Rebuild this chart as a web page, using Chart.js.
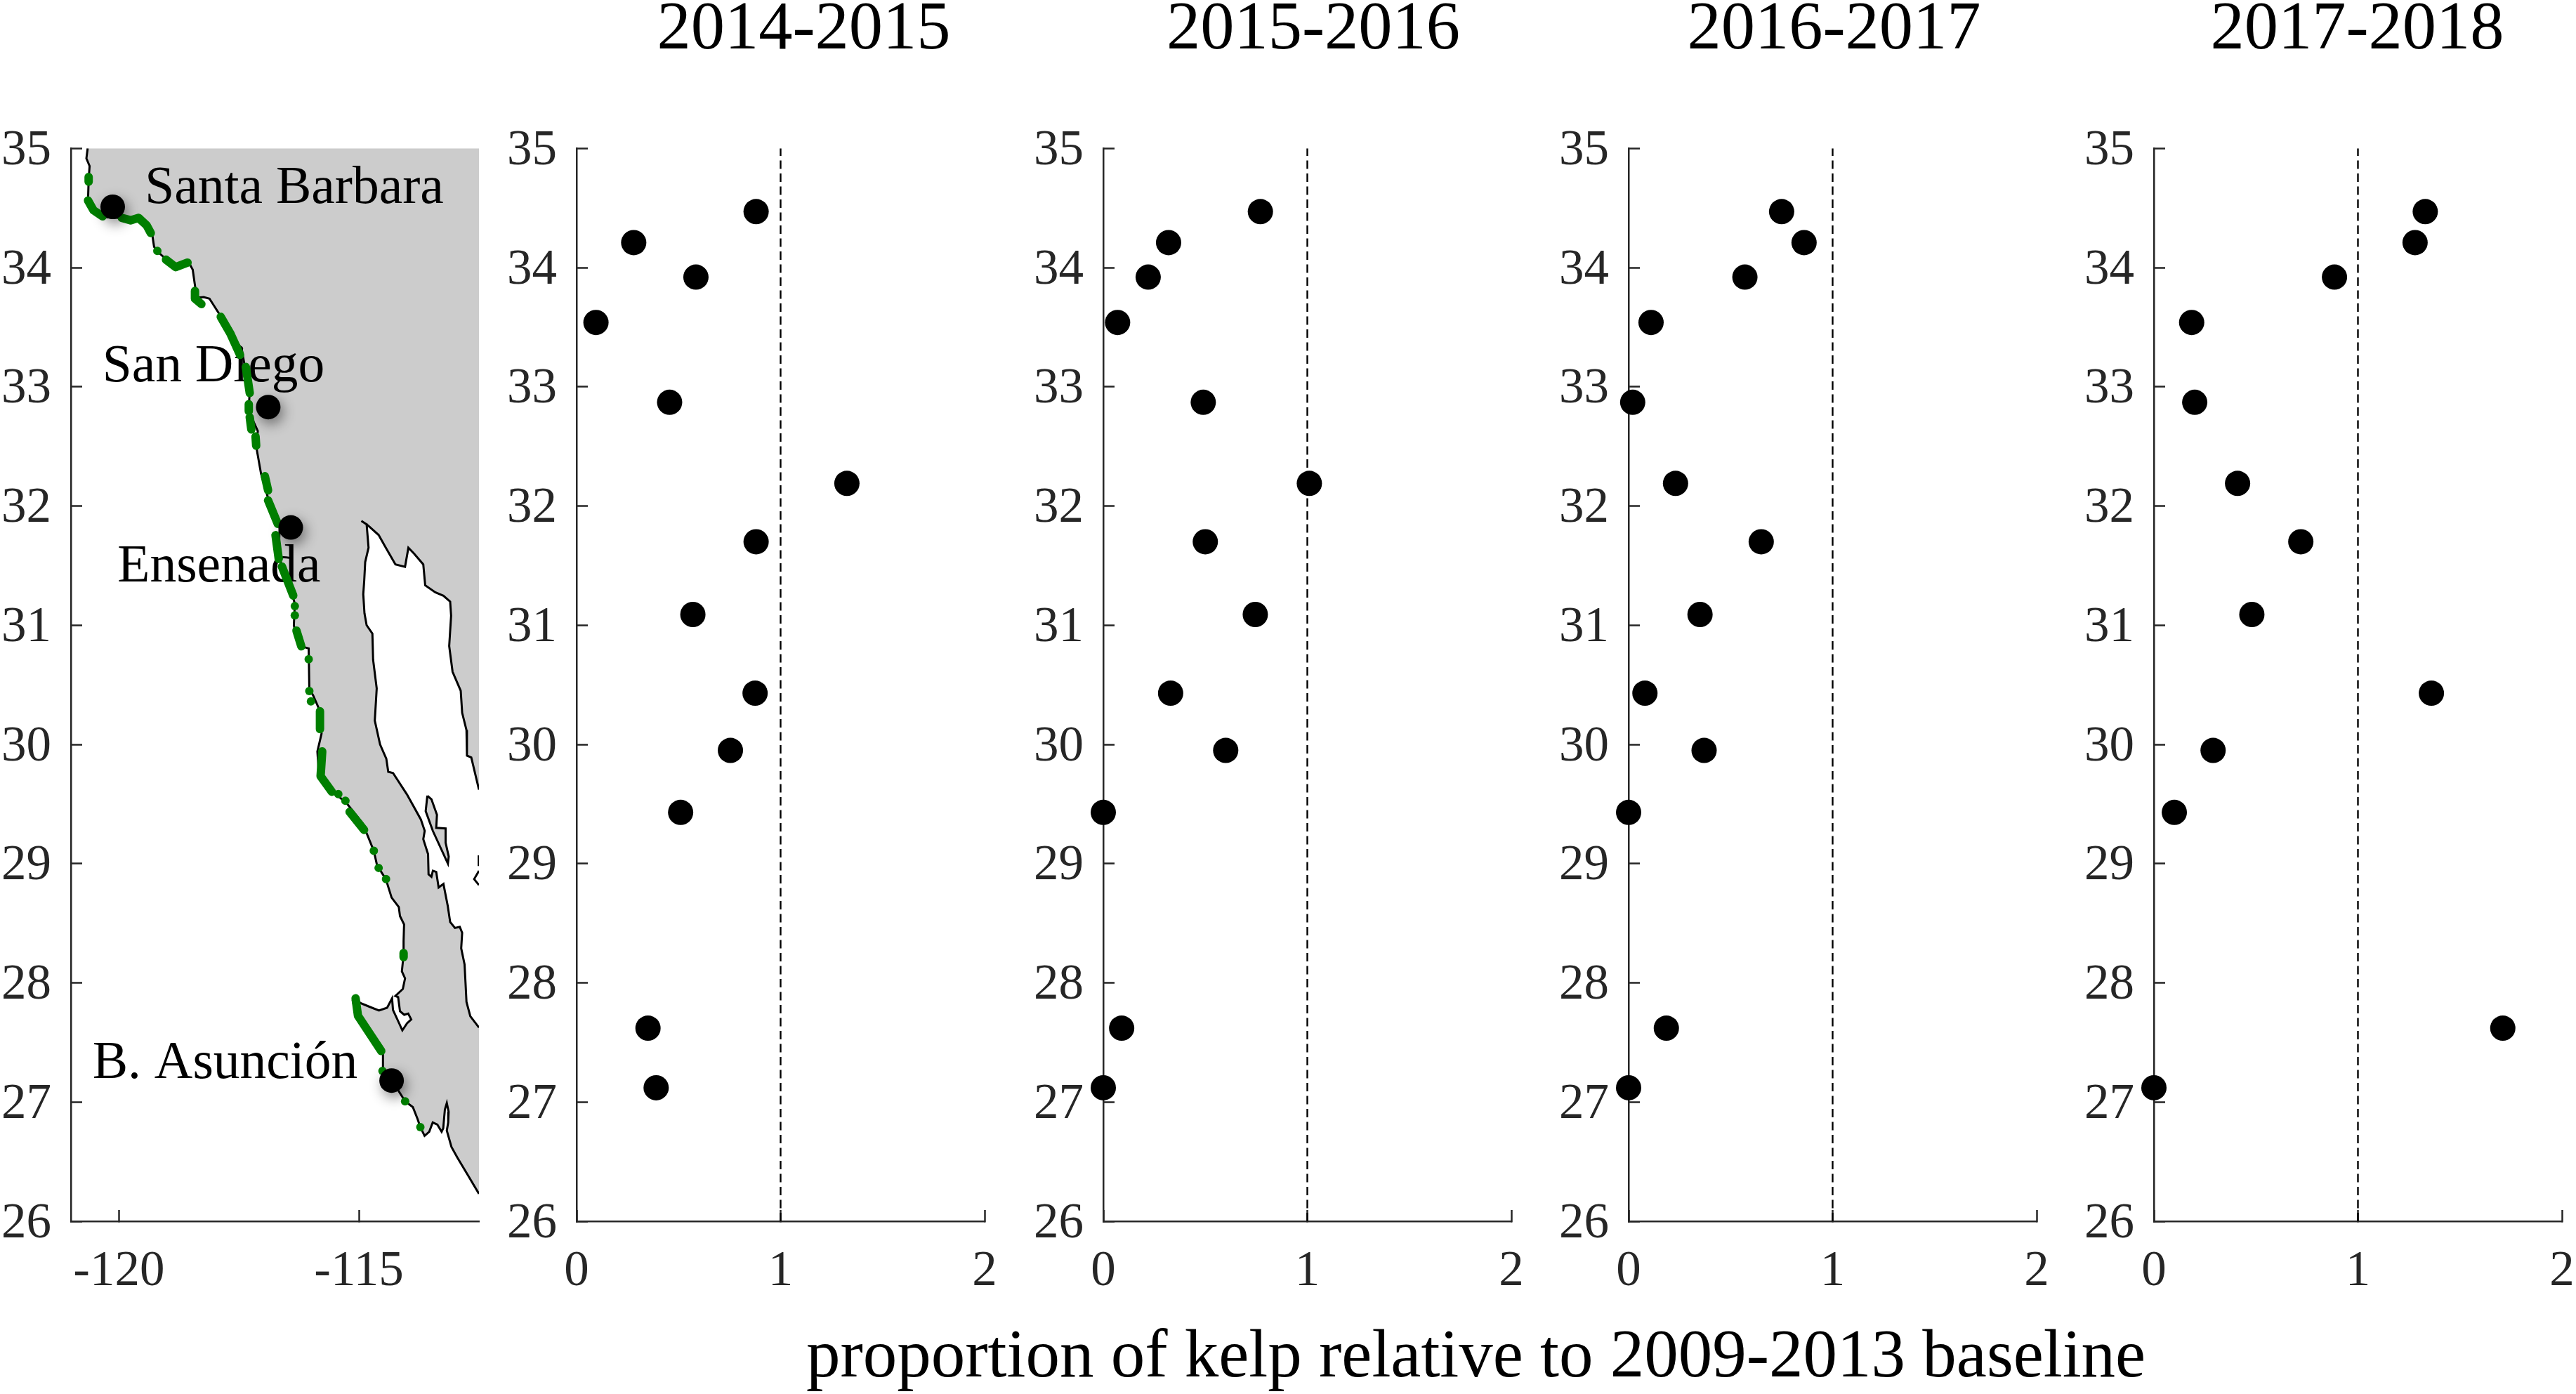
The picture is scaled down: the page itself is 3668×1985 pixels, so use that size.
<!DOCTYPE html>
<html>
<head>
<meta charset="utf-8">
<title>Kelp relative to baseline</title>
<script src="https://cdn.jsdelivr.net/npm/chart.js@4"></script>
<style>
  html, body { margin: 0; padding: 0; background: #fff; overflow: hidden; }
  #page { position: relative; width: 3668px; height: 1985px; }
  canvas { position: absolute; }
  .caption {
    position: absolute;
    font-family: "Liberation Serif", serif;
    line-height: 1;
    color: #000;
    white-space: nowrap;
    transform: translateX(-50%);
  }
</style>
</head>
<body>
<div id="page"></div>
<script>
// ---- data ----
const latTicks = [26, 27, 28, 29, 30, 31, 32, 33, 34, 35];
const lonTicks = [-120, -115];
const proportionTicks = [0, 1, 2];

const siteLat = [34.47, 34.21, 33.92, 33.54, 32.87, 32.19, 31.70, 31.09, 30.43, 29.95, 29.43, 27.62, 27.12];
const kelp2014 = [0.88, 0.28, 0.585, 0.095, 0.456, 1.325, 0.88, 0.57, 0.875, 0.754, 0.51, 0.35, 0.39];
const kelp2015 = [0.77, 0.32, 0.22, 0.07, 0.49, 1.01, 0.50, 0.745, 0.33, 0.60, 0, 0.09, 0];
const kelp2016 = [0.75, 0.86, 0.57, 0.11, 0.02, 0.23, 0.65, 0.35, 0.08, 0.37, 0, 0.185, 0];
const kelp2017 = [1.33, 1.28, 0.885, 0.185, 0.20, 0.41, 0.72, 0.48, 1.36, 0.29, 0.10, 1.71, 0];

const yearLabels = ['2014-2015', '2015-2016', '2016-2017', '2017-2018'];
const axisLabel = 'proportion of kelp relative to 2009-2013 baseline';

const placeNames = ['Santa Barbara', 'San Diego', 'Ensenada', 'B. Asunción'];
const placeLon = [-119.46, -120.346, -120.03, -120.55];
const placeLat = [34.54, 33.044, 31.365, 27.204];
const cityLon = [-120.13, -116.89, -116.42, -114.32];
const cityLat = [34.51, 32.83, 31.82, 27.18];

// coast lines as [lon, lat]
const pacificCoast = [
  [-120.651, 35], [-120.678, 34.916], [-120.611, 34.852], [-120.631, 34.737], [-120.644, 34.571],
  [-120.53, 34.469], [-120.329, 34.423], [-119.993, 34.417], [-119.792, 34.387], [-119.591, 34.423],
  [-119.389, 34.341], [-119.309, 34.285], [-119.268, 34.175], [-119.188, 34.131], [-118.987, 34.06],
  [-118.819, 34.004], [-118.55, 34.047], [-118.463, 33.983], [-118.409, 33.83], [-118.349, 33.748],
  [-118.235, 33.753], [-118.114, 33.74], [-117.913, 33.613], [-117.779, 33.523], [-117.577, 33.395],
  [-117.443, 33.319], [-117.376, 33.166], [-117.275, 32.961], [-117.295, 32.833], [-117.208, 32.718],
  [-117.107, 32.629], [-117.141, 32.501], [-117.04, 32.271], [-116.893, 32.067], [-116.772, 31.939],
  [-116.651, 31.837], [-116.671, 31.607], [-116.57, 31.428], [-116.403, 31.275], [-116.336, 31.18],
  [-116.356, 31.0], [-116.315, 30.917], [-116.201, 30.823], [-116.047, 30.805], [-116.034, 30.467],
  [-115.953, 30.41], [-115.832, 30.298], [-115.779, 30.091], [-115.866, 29.941], [-115.832, 29.734],
  [-115.597, 29.621], [-115.262, 29.509], [-114.926, 29.34], [-114.69, 29.107], [-114.62, 28.98],
  [-114.535, 28.93], [-114.44, 28.87], [-114.32, 28.715], [-114.17, 28.636], [-114.145, 28.56],
  [-114.06, 28.49], [-114.07, 28.351], [-114.07, 28.237], [-114.106, 28.096], [-114.04, 28.037],
  [-114.086, 27.948], [-114.242, 27.89], [-114.184, 27.88], [-114.145, 27.762], [-114.057, 27.732],
  [-113.974, 27.742], [-113.911, 27.693], [-113.999, 27.66], [-114.096, 27.601], [-114.155, 27.654],
  [-114.291, 27.772], [-114.31, 27.87], [-114.413, 27.791], [-114.583, 27.768], [-114.729, 27.791],
  [-114.973, 27.831], [-115.07, 27.88], [-115.129, 27.85], [-115.07, 27.742], [-114.827, 27.585],
  [-114.535, 27.428], [-114.5, 27.41], [-114.5, 27.271], [-114.315, 27.183], [-114.038, 27.006],
  [-113.877, 26.957], [-113.78, 26.859], [-113.721, 26.79], [-113.633, 26.717], [-113.536, 26.751],
  [-113.463, 26.829], [-113.366, 26.81], [-113.278, 26.751], [-113.244, 26.78], [-113.21, 26.937],
  [-113.17, 26.992], [-113.132, 26.918], [-113.141, 26.829], [-113.17, 26.76], [-113.073, 26.623],
  [-112.951, 26.535], [-112.732, 26.387], [-112.5, 26.23]
];
const bajaEastCoast = [
  [-114.95, 31.875], [-114.84, 31.846], [-114.80, 31.65], [-114.87, 31.53], [-114.89, 31.375],
  [-114.91, 31.26], [-114.885, 31.10], [-114.84, 31.00], [-114.72, 30.93], [-114.705, 30.71],
  [-114.63, 30.47], [-114.67, 30.20], [-114.56, 30.00], [-114.43, 29.88], [-114.39, 29.77],
  [-114.29, 29.76], [-113.999, 29.58], [-113.71, 29.37], [-113.63, 29.275], [-113.66, 29.205],
  [-113.56, 29.08], [-113.55, 28.91], [-113.49, 28.89], [-113.46, 28.94], [-113.39, 28.93],
  [-113.34, 28.80], [-113.24, 28.83], [-113.15, 28.645], [-113.10, 28.51], [-113.0, 28.46],
  [-112.90, 28.47], [-112.85, 28.42], [-112.87, 28.29], [-112.80, 28.155], [-112.78, 28.0],
  [-112.76, 27.84], [-112.68, 27.72], [-112.5, 27.625]
];
const mainlandCoast = [
  [-114.84, 31.846], [-114.78, 31.826], [-114.59, 31.757], [-114.44, 31.65], [-114.24, 31.51],
  [-114.04, 31.49], [-113.97, 31.65], [-113.85, 31.60], [-113.66, 31.51], [-113.62, 31.335],
  [-113.41, 31.276], [-113.24, 31.247], [-113.10, 31.198], [-113.08, 31.08], [-113.12, 30.825],
  [-113.05, 30.61], [-112.88, 30.45], [-112.85, 30.265], [-112.76, 30.12], [-112.75, 29.906],
  [-112.66, 29.89], [-112.5, 29.62]
];
const guardaIsland = [
  [-113.575, 29.57], [-113.49, 29.54], [-113.375, 29.41], [-113.39, 29.30], [-113.195, 29.295],
  [-113.195, 29.176], [-113.13, 29.06], [-113.147, 29.0], [-113.46, 29.274], [-113.61, 29.44],
  [-113.575, 29.57]
];
const tiburonEdge = [[-112.5, 28.94], [-112.6, 28.87], [-112.5, 28.82]];
const tiburonStub = [[-112.505, 29.07], [-112.505, 28.98]];

// kelp stretches along the coast, [lon, lat]
const kelpBeds = [
  [[-120.631, 34.76], [-120.631, 34.72]],
  [[-120.644, 34.563], [-120.53, 34.481], [-120.342, 34.43]],
  [[-119.94, 34.417], [-119.758, 34.397], [-119.591, 34.417], [-119.423, 34.354], [-119.336, 34.29]],
  [[-119.02, 34.067], [-118.819, 34.004], [-118.57, 34.042]],
  [[-118.416, 33.804], [-118.416, 33.74], [-118.282, 33.694]],
  [[-117.879, 33.587], [-117.678, 33.447], [-117.477, 33.268]],
  [[-117.356, 33.166], [-117.275, 32.948]],
  [[-117.295, 32.854], [-117.295, 32.795]],
  [[-117.275, 32.744], [-117.242, 32.642]],
  [[-117.154, 32.583], [-117.141, 32.506]],
  [[-116.96, 32.25], [-116.893, 32.131]],
  [[-116.893, 32.047], [-116.691, 31.85]],
  [[-116.738, 31.755], [-116.671, 31.556]],
  [[-116.604, 31.492], [-116.369, 31.249]],
  [[-116.302, 30.955], [-116.201, 30.823]],
  [[-115.812, 30.279], [-115.812, 30.128]],
  [[-115.765, 29.941], [-115.799, 29.734], [-115.564, 29.603]],
  [[-115.195, 29.434], [-114.893, 29.283]],
  [[-115.07, 27.87], [-115.02, 27.723], [-114.535, 27.428]],
  [[-114.07, 28.25], [-114.07, 28.215]]
];
const kelpSpotLon = [-119.2, -116.336, -116.336, -116.047, -116.034, -116.0, -115.43, -115.282, -114.69, -114.59, -114.436, -114.51, -114.038, -113.721];
const kelpSpotLat = [34.14, 31.16, 31.083, 30.714, 30.448, 30.361, 29.584, 29.527, 29.107, 28.964, 28.871, 27.261, 27.006, 26.79];

// ---- layout, in page pixels ----
const FONT = 'Liberation Serif';
const INK = '#262626';
const plotTop = 211.3;
const plotBottom = 1739;
const canvasTop = 131;
const yGutter = 120;
const xGutter = 140;
const rightGutter = 40;
const panelLeft = [821.4, 1571, 2319, 3067];
const panelWidth = 581.6;
const titleCentre = [1144.5, 1870, 2611.5, 3356.5];

const page = document.getElementById('page');

function toPoints(pairs) {
  return pairs.map(([x, y]) => ({ x: x, y: y }));
}

function zip(xs, ys) {
  return xs.map((x, i) => ({ x: x, y: ys[i] }));
}

function makeCanvas(left, plotWidth) {
  const canvas = document.createElement('canvas');
  canvas.width = yGutter + plotWidth + rightGutter;
  canvas.height = plotBottom - canvasTop + xGutter;
  canvas.style.left = (left - yGutter) + 'px';
  canvas.style.top = canvasTop + 'px';
  canvas.style.width = canvas.width + 'px';
  canvas.style.height = canvas.height + 'px';
  page.appendChild(canvas);
  return canvas;
}

function axisOptions(min, max, ticks, isX) {
  return {
    type: 'linear',
    min: min,
    max: max,
    afterBuildTicks: scale => { scale.ticks = ticks.map(v => ({ value: v })); },
    afterFit: scale => {
      // keep the plot box where it is, whatever the labels need
      scale.paddingTop = scale.paddingBottom = scale.paddingLeft = scale.paddingRight = 0;
      if (isX) scale.height = xGutter;
      else scale.width = yGutter;
    },
    border: { display: true, color: INK, width: 2.5 },
    grid: {
      drawOnChartArea: false,
      drawTicks: true,
      tickLength: -16,
      tickColor: INK,
      tickWidth: 2.5
    },
    ticks: {
      color: INK,
      font: { family: FONT, size: 71 },
      padding: isX ? 46 : 44,
      labelOffset: isX ? 0 : 4,
      autoSkip: false,
      maxRotation: 0,
      minRotation: 0
    }
  };
}

function baseOptions(xMin, xMax, xTicks) {
  return {
    responsive: false,
    animation: false,
    events: [],
    layout: { padding: { top: plotTop - canvasTop, right: rightGutter, left: 0, bottom: 0 } },
    plugins: { legend: { display: false }, tooltip: { enabled: false } },
    scales: {
      x: axisOptions(xMin, xMax, xTicks, true),
      y: axisOptions(26, 35, latTicks, false)
    }
  };
}

// scatter panels
function setupPanel(index, values) {
  const canvas = makeCanvas(panelLeft[index], panelWidth);
  return new Chart(canvas.getContext('2d'), {
    type: 'scatter',
    data: {
      datasets: [
        {
          label: yearLabels[index],
          data: zip(values, siteLat),
          backgroundColor: '#000',
          pointRadius: 18,
          pointBorderWidth: 0,
          clip: false,
          order: 1
        },
        {
          label: 'baseline',
          data: [{ x: 1, y: 26 }, { x: 1, y: 35 }],
          showLine: true,
          borderColor: '#000',
          borderWidth: 2.4,
          borderDash: [12, 6.5],
          pointRadius: 0,
          order: 2
        }
      ]
    },
    options: baseOptions(0, 2, proportionTicks)
  });
}

// writes the place names after the coast, so kelp and dots sit over them
const mapOverlay = {
  id: 'mapOverlay',
  beforeDatasetDraw(chart, args) {
    if (chart.data.datasets[args.index].label === 'cities') {
      const ctx = chart.ctx;
      ctx.save();
      ctx.shadowColor = 'rgba(0, 0, 0, 0.45)';
      ctx.shadowBlur = 18;
      ctx.shadowOffsetX = 4;
      ctx.shadowOffsetY = 7;
    }
  },
  afterDatasetDraw(chart, args) {
    const label = chart.data.datasets[args.index].label;
    const ctx = chart.ctx;
    if (label === 'cities') {
      ctx.restore();
    }
    if (label === 'pacific') {
      ctx.save();
      ctx.font = '75.5px "' + FONT + '"';
      ctx.fillStyle = '#000';
      ctx.textAlign = 'left';
      ctx.textBaseline = 'alphabetic';
      placeNames.forEach((name, i) => {
        ctx.fillText(name, chart.scales.x.getPixelForValue(placeLon[i]), chart.scales.y.getPixelForValue(placeLat[i]));
      });
      ctx.restore();
    }
  }
};

function coastLine(label, pairs, order) {
  return {
    label: label,
    data: toPoints(pairs),
    showLine: true,
    borderColor: '#000',
    borderWidth: 3,
    pointRadius: 0,
    order: order
  };
}

function setupMap() {
  const canvas = makeCanvas(101, 581.3);
  const landOutline = pacificCoast
    .concat(bajaEastCoast.slice().reverse())
    .concat(mainlandCoast)
    .concat([[-112.5, 35]]);
  const datasets = [
    {
      label: 'cities',
      data: zip(cityLon, cityLat),
      backgroundColor: '#000',
      pointRadius: 17.5,
      pointBorderWidth: 0,
      order: 1
    },
    {
      label: 'kelp spots',
      data: zip(kelpSpotLon, kelpSpotLat),
      backgroundColor: '#007f00',
      pointRadius: 6,
      pointBorderWidth: 0,
      order: 2
    }
  ];
  kelpBeds.forEach((bed, i) => {
    datasets.push({
      label: 'kelp ' + i,
      data: toPoints(bed),
      showLine: true,
      borderColor: '#007f00',
      borderWidth: 12,
      borderCapStyle: 'round',
      borderJoinStyle: 'round',
      pointRadius: 0,
      order: 3
    });
  });
  datasets.push(coastLine('pacific', pacificCoast, 4));
  datasets.push(coastLine('baja east', bajaEastCoast, 5));
  datasets.push(coastLine('mainland', mainlandCoast, 5));
  datasets.push(coastLine('tiburon', tiburonEdge, 5));
  datasets.push(coastLine('tiburon stub', tiburonStub, 5));
  datasets.push(Object.assign(coastLine('guarda', guardaIsland, 5), { fill: 'shape', backgroundColor: '#cccccc' }));
  datasets.push({
    label: 'land',
    data: toPoints(landOutline),
    showLine: true,
    fill: 'shape',
    backgroundColor: '#cccccc',
    borderWidth: 0,
    pointRadius: 0,
    order: 6
  });
  return new Chart(canvas.getContext('2d'), {
    type: 'scatter',
    data: { datasets: datasets },
    options: baseOptions(-121, -112.5, lonTicks),
    plugins: [mapOverlay]
  });
}

function addCaption(text, centre, top, size) {
  const el = document.createElement('div');
  el.className = 'caption';
  el.textContent = text;
  el.style.left = centre + 'px';
  el.style.top = top + 'px';
  el.style.fontSize = size + 'px';
  page.appendChild(el);
}

setupMap();
setupPanel(0, kelp2014);
setupPanel(1, kelp2015);
setupPanel(2, kelp2016);
setupPanel(3, kelp2017);

yearLabels.forEach((label, i) => addCaption(label, titleCentre[i], -10.8, 96.5));
addCaption(axisLabel, 2101.6, 1879, 97);
</script>
</body>
</html>
